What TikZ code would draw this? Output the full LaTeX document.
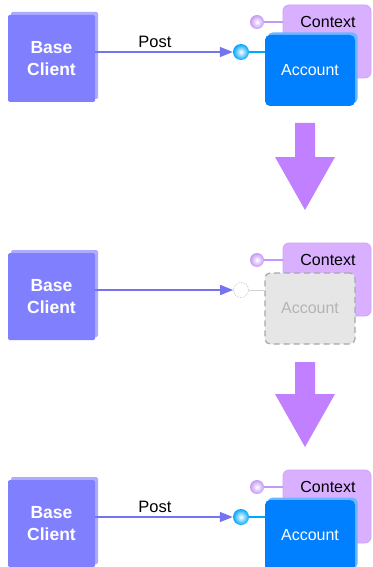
\documentclass[tikz,border=0pt]{standalone}
\usepackage{fontspec}
\setmainfont{Liberation Sans}
\usetikzlibrary{arrows.meta,shadows}
\definecolor{bcfill}{HTML}{8080FF}
\definecolor{bcedge}{HTML}{ACACFF}
\definecolor{linec}{HTML}{7474EE}
\definecolor{accfill}{HTML}{0080FF}
\definecolor{accedge}{HTML}{6CB6FF}
\definecolor{ctxfill}{HTML}{D9B0FF}
\definecolor{ctxedge}{HTML}{CFA2FA}
\definecolor{ctxball}{HTML}{C698F5}
\definecolor{bigarrow}{HTML}{C080FF}
\definecolor{ghostfill}{HTML}{E6E6E6}
\definecolor{ghostdraw}{HTML}{A8A8A8}
\definecolor{ghosttext}{HTML}{B4B4B4}
\tikzset{
  basebox/.style={minimum width=87pt, minimum height=87pt, inner sep=0pt,
    fill=bcfill, rounded corners=1.5pt, text=white, align=center,
    font=\bfseries\fontsize{17.5}{22}\selectfont,
    general shadow={fill=bcedge, shadow xshift=3pt, shadow yshift=3pt}},
  accbox/.style={minimum width=90pt, minimum height=71pt, inner sep=0pt,
    fill=accfill, rounded corners=5pt, text=white,
    font=\fontsize{16}{16}\selectfont,
    general shadow={fill=accedge, shadow xshift=2.5pt, shadow yshift=2.5pt}},
  ghostbox/.style={minimum width=90pt, minimum height=71pt, inner sep=0pt,
    fill=ghostfill, draw=ghostdraw, line width=1.2pt, dash pattern=on 6pt off 4pt,
    rounded corners=5pt, text=ghosttext, font=\fontsize{16}{16}\selectfont},
  ctxbox/.style={minimum width=88pt, minimum height=73pt, inner sep=0pt,
    fill=ctxfill, draw=ctxedge, line width=0.8pt, rounded corners=6pt},
  ctxtext/.style={font=\fontsize{16}{16}\selectfont, inner sep=0pt},
  posttext/.style={font=\fontsize{16.5}{16}\selectfont, inner sep=0pt},
  bluesphere/.style={circle, minimum size=16pt, inner sep=0pt,
    inner color=white, outer color=accfill!70!cyan},
  purplesphere/.style={circle, minimum size=14pt, inner sep=0pt,
    inner color=white, outer color=ctxball},
  ghostsphere/.style={circle, minimum size=15pt, inner sep=0pt,
    draw=ghostdraw!60, densely dotted, line width=0.8pt},
  postline/.style={draw=linec, line width=1.6pt,
    -{Triangle[length=13pt,width=10pt]}},
  ctxline/.style={draw=ctxball, line width=1.2pt},
  accline/.style={draw=accfill!70!cyan, line width=1.2pt},
  ghostline/.style={draw=ghostdraw!50, line width=1pt},
  bigarrowfill/.style={fill=bigarrow}
}
\begin{document}
\begin{tikzpicture}[x=1pt,y=-1pt]
\useasboundingbox[fill=white] (0,0) rectangle (372,567);

% ---------- panel 1 ----------
\node[basebox] (bc1) at (51.5,58.5) {Base\\Client};
\node[ctxbox] (ctx1) at (327,41.5) {};
\node[ctxtext] (ctxl1) at (328,22) {Context};
\node[accbox] (acc1) at (310,70.5) {Account};
\node[bluesphere] (s1) at (241,52) {};
\node[purplesphere] (cs1) at (257,22) {};
\draw[ctxline] (cs1) -- (cs1 -| ctx1.west);
\draw[accline] (s1) -- (s1 -| acc1.west);
\draw[postline] (bc1.east |- s1) -- (s1.west);
\node[posttext] (post1) at (155,42) {Post};

% big arrow 1
\fill[bigarrowfill] (295,123) -- (315,123) -- (315,157) -- (335,157) -- (305,210) -- (275,157) -- (295,157) -- cycle;

% ---------- panel 2 ----------
\node[basebox] (bc2) at (51.5,296.5) {Base\\Client};
\node[ctxbox] (ctx2) at (327,279.5) {};
\node[ctxtext] (ctxl2) at (328,260) {Context};
\node[ghostbox] (acc2) at (310,308.5) {Account};
\node[ghostsphere] (s2) at (241,290) {};
\node[purplesphere] (cs2) at (257,260) {};
\draw[ctxline] (cs2) -- (cs2 -| ctx2.west);
\draw[ghostline] (s2) -- (s2 -| acc2.west);
\draw[postline] (bc2.east |- s2) -- (s2.west);

% big arrow 2
\fill[bigarrowfill] (295,362) -- (315,362) -- (315,394) -- (335,394) -- (305,447) -- (275,394) -- (295,394) -- cycle;

% ---------- panel 3 ----------
\node[basebox] (bc3) at (51.5,523.5) {Base\\Client};
\node[ctxbox] (ctx3) at (327,506.5) {};
\node[ctxtext] (ctxl3) at (328,487) {Context};
\node[accbox] (acc3) at (310,535.5) {Account};
\node[bluesphere] (s3) at (241,517) {};
\node[purplesphere] (cs3) at (257,487) {};
\draw[ctxline] (cs3) -- (cs3 -| ctx3.west);
\draw[accline] (s3) -- (s3 -| acc3.west);
\draw[postline] (bc3.east |- s3) -- (s3.west);
\node[posttext] (post3) at (155,507) {Post};
\end{tikzpicture}
\end{document}
